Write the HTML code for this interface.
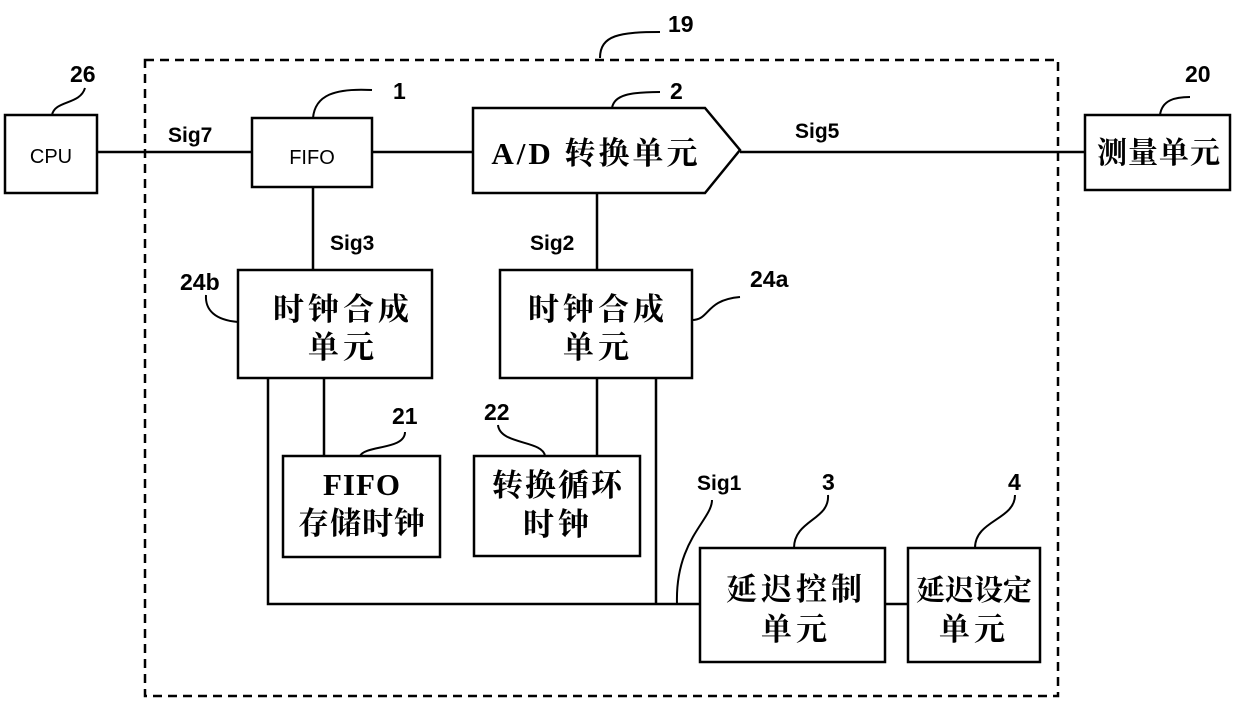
<!DOCTYPE html>
<html><head><meta charset="utf-8"><style>
body{margin:0;background:#fff;}
svg text{font-family:"Liberation Sans",sans-serif;font-weight:bold;fill:#000;}
.cj{font-family:"Liberation Serif","Noto Serif CJK SC","Noto Sans CJK SC",serif;font-weight:bold;font-size:31px;text-anchor:middle;letter-spacing:4px;}
</style></head><body>
<svg width="1240" height="713" viewBox="0 0 1240 713" xmlns="http://www.w3.org/2000/svg">
<g fill="none" stroke="#000" stroke-width="2.5">
<rect x="145" y="60" width="913" height="636" stroke-dasharray="9,6"/>
<rect x="5" y="115" width="92" height="78"/>
<rect x="252" y="118" width="120" height="69"/>
<path d="M473 108 H705 L740 150 L705 193 H473 Z"/>
<rect x="1085" y="115" width="145" height="75"/>
<rect x="238" y="270" width="194" height="108"/>
<rect x="500" y="270" width="192" height="108"/>
<rect x="283" y="456" width="157" height="101"/>
<rect x="474" y="456" width="166" height="100"/>
<rect x="700" y="548" width="185" height="114"/>
<rect x="908" y="548" width="132" height="114"/>
<path d="M97 152 H252 M372 152 H473 M740 152 H1085 M313 187 V270 M597 193 V270 M268 378 V604 H700 M324 378 V456 M597 378 V456 M656 378 V604 M885 604 H908"/>
<g stroke-width="2">
<path d="M600 58 C600 35 620 32 660 32"/>
<path d="M52 115 C55 100 80 105 85 88"/>
<path d="M313 118 C315 95 335 88 372 90"/>
<path d="M612 108 C614 95 630 92 660 92"/>
<path d="M1160 115 C1162 100 1175 97 1190 97"/>
<path d="M238 322 C215 320 205 310 206 295"/>
<path d="M692 320 C710 320 705 300 740 297"/>
<path d="M360 456 C365 445 405 450 405 432"/>
<path d="M545 456 C543 440 500 445 498 425"/>
<path d="M677 604 C675 540 712 520 712 500"/>
<path d="M794 548 C794 520 830 520 828 495"/>
<path d="M975 548 C975 520 1015 520 1015 495"/>
</g>
</g>
<g font-size="23">
<text x="668" y="32">19</text>
<text x="70" y="82">26</text>
<text x="393" y="99">1</text>
<text x="670" y="99">2</text>
<text x="1185" y="82">20</text>
<text x="180" y="290">24b</text>
<text x="750" y="287">24a</text>
<text x="392" y="424">21</text>
<text x="484" y="420">22</text>
<text x="822" y="490">3</text>
<text x="1008" y="490">4</text>
</g>
<g font-size="21">
<text x="168" y="142">Sig7</text>
<text x="795" y="138">Sig5</text>
<text x="330" y="250">Sig3</text>
<text x="530" y="250">Sig2</text>
<text x="697" y="490">Sig1</text>
</g>
<text x="51" y="163" font-size="20" text-anchor="middle" style="font-weight:normal">CPU</text>
<text x="312" y="164" font-size="20" text-anchor="middle" style="font-weight:normal">FIFO</text>
<text x="596" y="164" class="cj" style="letter-spacing:3px">A/D 转换单元</text>
<text x="1159" y="163" class="cj" style="font-size:30px;letter-spacing:1px">测量单元</text>
<text x="343" y="320" class="cj">时钟合成</text>
<text x="343" y="358" class="cj">单元</text>
<text x="598" y="320" class="cj">时钟合成</text>
<text x="598" y="358" class="cj">单元</text>
<text x="362" y="495" class="cj" style="letter-spacing:1px">FIFO</text>
<text x="362" y="534" class="cj" style="letter-spacing:1px">存储时钟</text>
<text x="558" y="496" class="cj" style="letter-spacing:2px">转换循环</text>
<text x="558" y="535" class="cj">时钟</text>
<text x="796" y="600" class="cj">延迟控制</text>
<text x="796" y="640" class="cj">单元</text>
<text x="974" y="600" class="cj" style="font-size:29px;letter-spacing:0">延迟设定</text>
<text x="974" y="640" class="cj">单元</text>
</svg>
</body></html>
